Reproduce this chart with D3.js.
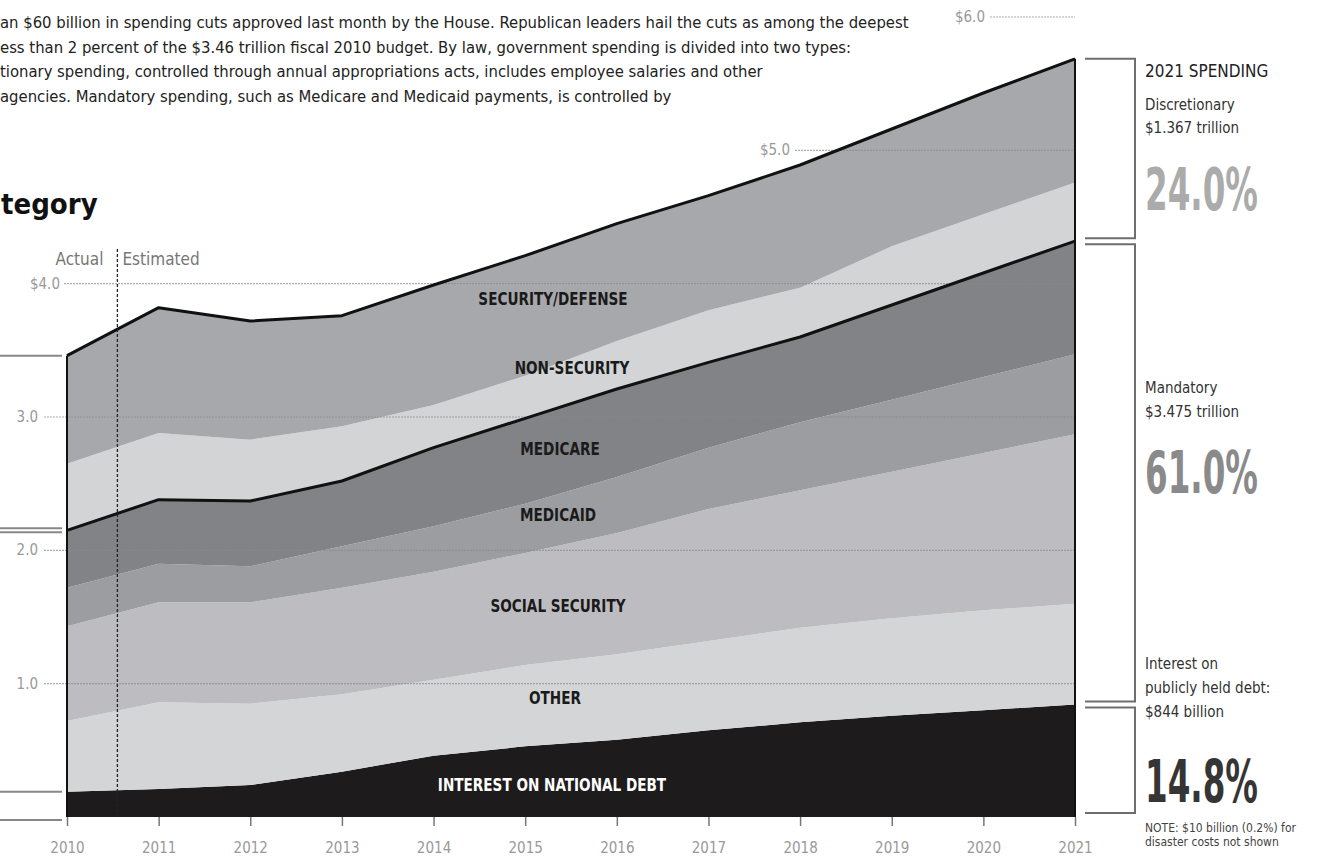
<!DOCTYPE html>
<html>
<head>
<meta charset="utf-8">
<script src="https://cdn.jsdelivr.net/npm/d3@7"></script>
<style>
  body { margin: 0; background: #fff; }
  svg { display: block; }
  text { font-family: "Liberation Sans Narrow", "DejaVu Sans Condensed", "Roboto", sans-serif; }
</style>
</head>
<body>
<div id="chart"></div>
<script>
(function () {
    'use strict';

    // fiscal years and spending by category, in trillions of dollars
    const years = [2010, 2011, 2012, 2013, 2014, 2015, 2016, 2017, 2018, 2019, 2020, 2021];
    const interest = [0.19, 0.21, 0.24, 0.34, 0.46, 0.53, 0.58, 0.65, 0.71, 0.76, 0.80, 0.844];
    const other = [0.53, 0.65, 0.61, 0.58, 0.57, 0.61, 0.64, 0.67, 0.71, 0.73, 0.75, 0.756];
    const socialSecurity = [0.71, 0.75, 0.76, 0.80, 0.81, 0.84, 0.91, 0.99, 1.03, 1.10, 1.18, 1.27];
    const medicaid = [0.29, 0.29, 0.27, 0.31, 0.34, 0.37, 0.42, 0.46, 0.51, 0.54, 0.57, 0.60];
    const medicare = [0.43, 0.48, 0.49, 0.49, 0.59, 0.64, 0.66, 0.64, 0.64, 0.71, 0.78, 0.849];
    const nonSecurity = [0.50, 0.50, 0.46, 0.41, 0.32, 0.32, 0.36, 0.39, 0.37, 0.44, 0.44, 0.44];
    const security = [0.81, 0.94, 0.89, 0.83, 0.90, 0.90, 0.88, 0.86, 0.92, 0.88, 0.91, 0.927];

    const categories = ['interest', 'other', 'socialSecurity', 'medicaid', 'medicare', 'nonSecurity', 'security'];
    const categoryLabels = ['INTEREST ON NATIONAL DEBT', 'OTHER', 'SOCIAL SECURITY', 'MEDICAID', 'MEDICARE', 'NON-SECURITY', 'SECURITY/DEFENSE'];
    const seriesValues = [interest, other, socialSecurity, medicaid, medicare, nonSecurity, security];

    const yTicks = [1, 2, 3, 4, 5, 6];
    const yTickLabels = ['1.0', '2.0', '3.0', '$4.0', '$5.0', '$6.0'];
    const estimateStart = 2010.55;

    const intro = [
        'an $60 billion in spending cuts approved last month by the House. Republican leaders hail the cuts as among the deepest',
        'ess than 2 percent of the $3.46 trillion fiscal 2010 budget. By law, government spending is divided into two types:',
        'tionary spending, controlled through annual appropriations acts, includes employee salaries and other',
        ' agencies. Mandatory spending, such as Medicare and Medicaid payments, is controlled by'
    ];

    const width = 1320;
    const height = 862;

    const fills = {
        interest: '#1e1b1c',
        other: '#d4d5d7',
        socialSecurity: '#bdbdc1',
        medicaid: '#9c9da0',
        medicare: '#828386',
        nonSecurity: '#d3d4d6',
        security: '#a7a8ab'
    };
    const labelAt = {
        interest: [552, 785, '#fff'],
        other: [555, 698, '#1a1a1a'],
        socialSecurity: [558, 606, '#1a1a1a'],
        medicaid: [558, 515, '#1a1a1a'],
        medicare: [560, 449, '#1a1a1a'],
        nonSecurity: [572, 368, '#1a1a1a'],
        security: [553, 299, '#1a1a1a']
    };

    const svg = d3.select('#chart').append('svg').attr('width', width).attr('height', height);

    const xScale = d3.scaleLinear().domain([2010, 2021]).range([67, 1075]);
    const yScale = d3.scaleLinear().domain([0, 6]).range([817, 17]);

    const table = years.map(function (yr, i) {
        const row = { year: yr };
        categories.forEach(function (c, k) { row[c] = seriesValues[k][i]; });
        return row;
    });

    const stacked = d3.stack().keys(categories)(table);

    // intro text, cut off at the left like the original page
    svg.append('g').selectAll('text').data(intro).enter().append('text')
        .attr('x', 0)
        .attr('y', function (d, i) { return 28 + i * 24.5; })
        .style('font-size', '16.5px')
        .attr('fill', '#222')
        .text(function (d) { return d; });

    svg.append('text').attr('x', 1).attr('y', 214)
        .style('font-size', '29px').style('font-weight', 'bold').attr('fill', '#111')
        .text('tegory');

    // areas
    const area = d3.area()
        .x(function (d) { return xScale(d.data.year); })
        .y0(function (d) { return yScale(d[0]); })
        .y1(function (d) { return yScale(d[1]); });

    svg.append('g').selectAll('path').data(stacked).enter().append('path')
        .attr('fill', function (d) { return fills[d.key]; })
        .attr('d', area);

    // gridlines
    const gridStart = [44, 44, 44, 64, 795, 990];
    const labelEnd = [38, 38, 38, 60, 790, 985];
    const grid = svg.append('g');
    yTicks.forEach(function (t, i) {
        grid.append('line')
            .attr('x1', gridStart[i]).attr('x2', xScale(2021))
            .attr('y1', yScale(t)).attr('y2', yScale(t))
            .attr('stroke', '#8a8a8a').attr('stroke-width', 1.2)
            .attr('stroke-dasharray', '2,1').attr('opacity', 0.7);
        grid.append('text')
            .attr('x', labelEnd[i]).attr('y', yScale(t) + 5)
            .attr('text-anchor', 'end')
            .style('font-size', '15px').attr('fill', '#999')
            .text(yTickLabels[i]);
    });

    // boundary lines: total and mandatory/discretionary split
    const topLine = d3.line()
        .x(function (d) { return xScale(d.data.year); })
        .y(function (d) { return yScale(d[1]); });

    [stacked[4], stacked[6]].forEach(function (s) {
        svg.append('path').attr('d', topLine(s))
            .attr('fill', 'none').attr('stroke', '#111').attr('stroke-width', 3)
            .attr('stroke-linejoin', 'round');
    });

    const total0 = stacked[6][0][1];
    const totalN = stacked[6][years.length - 1][1];
    svg.append('line').attr('x1', xScale(2010)).attr('x2', xScale(2010))
        .attr('y1', yScale(0)).attr('y2', yScale(total0))
        .attr('stroke', '#111').attr('stroke-width', 2);
    svg.append('line').attr('x1', xScale(2021)).attr('x2', xScale(2021))
        .attr('y1', yScale(0)).attr('y2', yScale(totalN))
        .attr('stroke', '#111').attr('stroke-width', 2);

    // area labels (condensed bold)
    svg.append('g').selectAll('text').data(categories).enter().append('text')
        .attr('transform', function (d) {
            return 'translate(' + labelAt[d][0] + ',' + (labelAt[d][1] + 6) + ') scale(0.84,1)';
        })
        .attr('text-anchor', 'middle')
        .attr('fill', function (d) { return labelAt[d][2]; })
        .style('font-size', '18px').style('font-weight', 'bold')
        .text(function (d, i) { return categoryLabels[i]; });

    // actual / estimated divider
    svg.append('line')
        .attr('x1', xScale(estimateStart)).attr('x2', xScale(estimateStart))
        .attr('y1', 249).attr('y2', yScale(0))
        .attr('stroke', '#222').attr('stroke-width', 1.3).attr('stroke-dasharray', '3,2');
    svg.append('text').attr('x', xScale(estimateStart) - 14).attr('y', 265)
        .attr('text-anchor', 'end').style('font-size', '17px').attr('fill', '#777').text('Actual');
    svg.append('text').attr('x', xScale(estimateStart) + 5).attr('y', 265)
        .style('font-size', '17px').attr('fill', '#777').text('Estimated');

    // x axis
    const xAxis = d3.axisBottom(xScale).tickValues(years).tickFormat(d3.format('d')).tickSize(9);
    svg.append('g').attr('transform', 'translate(0,' + yScale(0) + ')')
        .call(xAxis)
        .call(function (g) { g.select('.domain').remove(); })
        .call(function (g) {
            g.selectAll('line').attr('stroke', '#777').attr('stroke-width', 1.5);
            g.selectAll('text').attr('fill', '#999').attr('dy', '1.6em')
                .style('font-size', '15px')
                .style('font-family', '"Liberation Sans Narrow", "DejaVu Sans Condensed", Roboto, sans-serif');
        });

    // brackets on both sides
    const interest0 = stacked[0][0][1];
    const mand0 = stacked[4][0][1];
    const interestN = stacked[0][years.length - 1][1];
    const mandN = stacked[4][years.length - 1][1];
    const br = svg.append('g').attr('stroke', '#888').attr('stroke-width', 2).attr('fill', 'none');

    [[total0, 0], [mand0, -2], [mand0, 2], [interest0, 0], [0, 3]].forEach(function (p) {
        br.append('line').attr('x1', 0).attr('x2', 62)
            .attr('y1', yScale(p[0]) + p[1]).attr('y2', yScale(p[0]) + p[1]);
    });

    const bx = 1135;
    const segs = [[totalN, mandN, 0, -3], [mandN, interestN, 3, -3], [interestN, 0, 3, -4]];
    segs.forEach(function (s) {
        const a = yScale(s[0]) + s[2];
        const b = yScale(s[1]) + s[3];
        br.append('path').attr('d', 'M1085,' + a + 'H' + bx + 'V' + b + 'H1085')
            .attr('stroke', '#6e6e6e');
    });

    // right panel text
    const side = svg.append('g').attr('transform', 'translate(1145,0)');
    const sideLines = [
        ['2021 SPENDING', 77, 17, '#222'],
        ['Discretionary', 110, 15, '#333'],
        ['$1.367 trillion', 133, 15, '#333'],
        ['Mandatory', 393, 15, '#333'],
        ['$3.475 trillion', 417, 15, '#333'],
        ['Interest on', 669, 15, '#333'],
        ['publicly held debt:', 693, 15, '#333'],
        ['$844 billion', 717, 15, '#333'],
        ['NOTE: $10 billion (0.2%) for', 832, 12, '#444'],
        ['disaster costs not shown', 846, 12, '#444']
    ];
    sideLines.forEach(function (l) {
        side.append('text').attr('x', 0).attr('y', l[1])
            .style('font-size', l[2] + 'px').attr('fill', l[3])
            .text(l[0]);
    });

    // big shares, squeezed to a condensed width
    const shares = [['24.0%', 210, '#ababab'], ['61.0%', 493, '#8a8a8a'], ['14.8%', 802, '#353535']];
    shares.forEach(function (s) {
        const t = side.append('text').attr('x', 0).attr('y', 0)
            .style('font-size', '58px').style('font-weight', 'bold').attr('fill', s[2])
            .text(s[0]);
        const w = t.node().getComputedTextLength() || 113;
        t.attr('transform', 'translate(0,' + s[1] + ') scale(' + (113 / w) + ',1)');
    });
}());
</script>
</body>
</html>
